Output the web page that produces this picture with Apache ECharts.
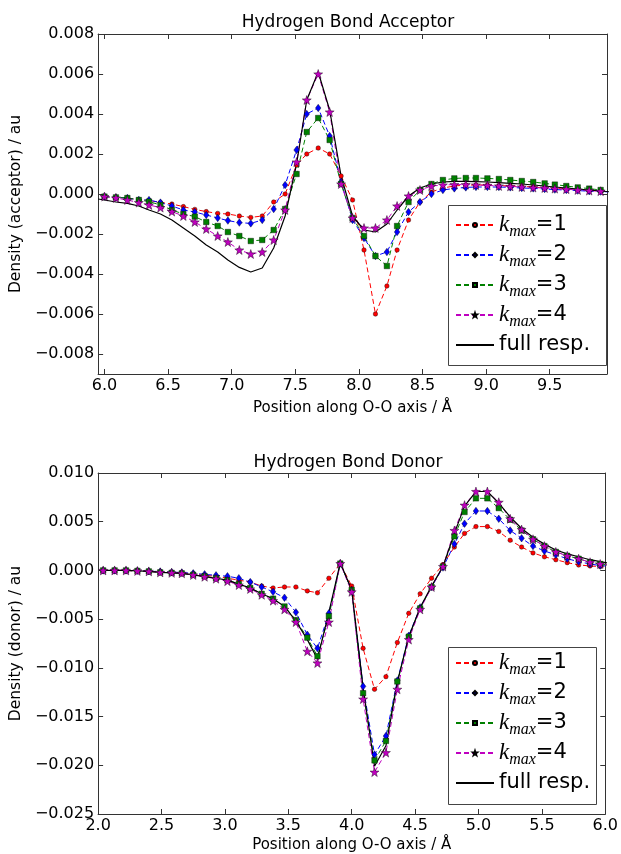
<!DOCTYPE html>
<html><head><meta charset="utf-8">
<script src="https://cdn.jsdelivr.net/npm/echarts@6/dist/echarts.min.js"></script>
<style>html,body{margin:0;padding:0;background:#fff}#c{width:621px;height:854px}</style>
</head><body><div id="c"></div>
<script>
// ---------- Acceptor (top) ----------
const accX = [6.00,6.09,6.18,6.27,6.35,6.44,6.53,6.62,6.71,6.80,6.89,6.97,7.06,7.15,7.24,7.33,7.42,7.51,7.59,7.68,7.77,7.86,7.95,8.04,8.13,8.22,8.30,8.39,8.48,8.57,8.66,8.75,8.84,8.92,9.01,9.10,9.19,9.28,9.37,9.46,9.54,9.63,9.72,9.81,9.90,9.99];
const accK1 = [-0.00013,-0.00017,-0.0002,-0.00027,-0.00033,-0.00042,-0.0005,-0.00063,-0.00077,-0.00088,-0.00097,-0.0010,-0.0011,-0.00117,-0.0011,-0.0004,0.0000,0.00145,0.0020,0.0023,0.0020,0.0009,-0.0003,-0.0028,-0.0060,-0.0046,-0.0028,-0.0013,-0.0004,0.0001,0.0003,0.0004,0.00045,0.00045,0.00045,0.00042,0.0004,0.00038,0.00035,0.0003,0.00028,0.00025,0.0002,0.00018,0.00015,0.0001];
const accK2 = [-0.00013,-0.00017,-0.0002,-0.0003,-0.0003,-0.00043,-0.0006,-0.0008,-0.0009,-0.00105,-0.0012,-0.00133,-0.00143,-0.00147,-0.0013,-0.00075,0.00045,0.0022,0.0040,0.0043,0.0029,0.0006,-0.0013,-0.0022,-0.0031,-0.0029,-0.0019,-0.0009,-0.0004,0.0000,0.0002,0.00028,0.00033,0.00035,0.00035,0.00035,0.00033,0.0003,0.00028,0.00025,0.00022,0.0002,0.00017,0.00014,0.00012,0.0001];
const accK3 = [-0.00013,-0.00017,-0.0002,-0.0003,-0.00038,-0.00055,-0.0008,-0.001,-0.00113,-0.0014,-0.0016,-0.0019,-0.0021,-0.00235,-0.0023,-0.0018,-0.00075,0.0010,0.0031,0.0038,0.0027,0.0005,-0.0012,-0.0021,-0.0031,-0.0036,-0.0016,-0.0004,0.0002,0.0005,0.0007,0.00078,0.0008,0.0008,0.00078,0.00075,0.0007,0.00065,0.0006,0.00053,0.00047,0.0004,0.00033,0.00027,0.0002,0.00015];
const accK4 = [-0.00013,-0.0002,-0.0003,-0.00043,-0.00055,-0.00068,-0.00088,-0.0011,-0.0014,-0.00175,-0.0021,-0.0024,-0.0028,-0.0030,-0.0029,-0.0023,-0.0008,0.0016,0.0047,0.0060,0.0041,0.0005,-0.0012,-0.0017,-0.0017,-0.0013,-0.0006,-0.0001,0.0002,0.0004,0.00045,0.00047,0.00047,0.00045,0.00043,0.0004,0.00038,0.00035,0.00032,0.0003,0.00027,0.00024,0.0002,0.00017,0.00014,0.0001];
const accFullX = [5.95,6.00,6.09,6.18,6.27,6.35,6.44,6.53,6.62,6.71,6.80,6.89,6.97,7.06,7.15,7.24,7.33,7.42,7.51,7.59,7.68,7.77,7.86,7.95,8.04,8.13,8.22,8.30,8.39,8.48,8.57,8.66,8.75,8.84,8.92,9.01,9.10,9.19,9.28,9.37,9.46,9.54,9.63,9.72,9.81,9.90,9.99];
const accFull = [-0.00025,-0.0003,-0.0004,-0.00047,-0.0006,-0.0008,-0.001,-0.0013,-0.0017,-0.0021,-0.00255,-0.0029,-0.0033,-0.00367,-0.0039,-0.0037,-0.0027,-0.0011,0.0015,0.0047,0.0061,0.0042,0.0009,-0.0011,-0.0018,-0.0019,-0.0015,-0.0008,-0.0001,0.0003,0.0005,0.0006,0.00063,0.00063,0.00062,0.0006,0.00057,0.00053,0.0005,0.00045,0.0004,0.00035,0.0003,0.00025,0.0002,0.00015,0.0001];
const accYTicks = [-0.008,-0.006,-0.004,-0.002,0,0.002,0.004,0.006,0.008];
const accXTicks = [6.0,6.5,7.0,7.5,8.0,8.5,9.0,9.5];

// ---------- Donor (bottom) ----------
const donX = [2.04,2.13,2.22,2.31,2.40,2.49,2.58,2.66,2.75,2.84,2.93,3.02,3.11,3.20,3.29,3.38,3.47,3.56,3.65,3.73,3.82,3.91,4.00,4.09,4.18,4.27,4.36,4.45,4.54,4.63,4.72,4.81,4.89,4.98,5.07,5.16,5.25,5.34,5.43,5.52,5.61,5.70,5.79,5.88,5.96,6.05];
const donK1 = [0,0,0,-0.00005,-0.0001,-0.00015,-0.0002,-0.00025,-0.00035,-0.0005,-0.0006,-0.0008,-0.0010,-0.0012,-0.0016,-0.0018,-0.0017,-0.0017,-0.0021,-0.0023,-0.0008,0.0007,-0.0016,-0.0080,-0.0122,-0.0109,-0.0074,-0.0044,-0.0024,-0.0008,0.0006,0.0024,0.0038,0.0045,0.0045,0.0040,0.0031,0.0024,0.0018,0.0014,0.0011,0.0008,0.00056,0.00046,0.0004,0.0003];
const donK2 = [0,0,0,-0.00003,-0.00008,-0.00012,-0.00018,-0.00022,-0.0003,-0.0004,-0.0005,-0.0006,-0.0008,-0.0012,-0.0017,-0.0022,-0.0028,-0.0043,-0.0066,-0.0080,-0.0044,0.0007,-0.0020,-0.0119,-0.0189,-0.0170,-0.0113,-0.0067,-0.0038,-0.0017,0.0003,0.0027,0.0048,0.0061,0.0061,0.0053,0.0041,0.0033,0.0025,0.0020,0.0016,0.0012,0.0009,0.00066,0.0005,0.0004];
const donK3 = [0,0,0,-0.00005,-0.0001,-0.0002,-0.00025,-0.0003,-0.00045,-0.0006,-0.0008,-0.001,-0.0014,-0.0018,-0.0024,-0.0029,-0.0037,-0.0051,-0.0069,-0.0088,-0.0047,0.0007,-0.0020,-0.0126,-0.0195,-0.0175,-0.0114,-0.0068,-0.0039,-0.0017,0.0004,0.0035,0.0060,0.0074,0.0074,0.0064,0.0052,0.0041,0.0032,0.0025,0.0019,0.0015,0.0012,0.00084,0.00066,0.0005];
const donK4 = [0,0,0,-0.00005,-0.0001,-0.0002,-0.00025,-0.0003,-0.00047,-0.00065,-0.00085,-0.0011,-0.0015,-0.0019,-0.0025,-0.0031,-0.0040,-0.0053,-0.0083,-0.0095,-0.0053,0.0007,-0.0022,-0.0132,-0.0207,-0.0187,-0.0122,-0.0071,-0.0040,-0.0017,0.0004,0.0041,0.0067,0.0081,0.0081,0.0070,0.0053,0.0042,0.0032,0.0025,0.0019,0.0015,0.0012,0.00084,0.00066,0.0005];
const donFull = [0,0,0,-0.00005,-0.0001,-0.0002,-0.00025,-0.0003,-0.00046,-0.00063,-0.0008,-0.001,-0.0014,-0.0018,-0.0024,-0.0029,-0.0037,-0.0052,-0.0071,-0.0091,-0.0043,0.0008,-0.0020,-0.0120,-0.0201,-0.0180,-0.0115,-0.0068,-0.0038,-0.0016,0.0004,0.0038,0.0066,0.0081,0.0081,0.0069,0.0055,0.0043,0.0034,0.0027,0.0021,0.0017,0.0014,0.0011,0.0009,0.0007];
const donYTicks = [-0.025,-0.020,-0.015,-0.010,-0.005,0,0.005,0.010];
const donXTicks = [2.0,2.5,3.0,3.5,4.0,4.5,5.0,5.5,6.0];

const seriesNames = ['k1','k2','k3','k4','full'];
const legendNums = ['1','2','3','4'];

const FONT = 'DejaVu Sans';
const AX = '#333';
const STAR = 'path://M0,-10 L2.35,-3.24 L9.51,-3.09 L3.8,1.24 L5.88,8.09 L0,4 L-5.88,8.09 L-3.8,1.24 L-9.51,-3.09 L-2.35,-3.24 Z';

const fmtY = v => (v < -1e-12 ? '\u2212' : '') + Math.abs(v).toFixed(3);
const fmtX = v => v.toFixed(1);

function xAxis(gi, min, max, ticks, pos, name, gap) {
  const bottom = pos === 'bottom';
  return {
    type: 'value', gridIndex: gi, position: pos, min, max,
    axisLine: {show: true, onZero: false, lineStyle: {color: AX, width: 1}},
    axisTick: {show: true, inside: true, length: 5, customValues: ticks, lineStyle: {color: AX}},
    axisLabel: {show: bottom, customValues: ticks, formatter: fmtX, color: '#000', fontSize: 16, fontFamily: FONT, margin: 4},
    splitLine: {show: false},
    name: bottom ? name : '', nameLocation: 'middle', nameGap: gap,
    nameTextStyle: {color: '#000', fontSize: 15, fontFamily: FONT}
  };
}
function yAxis(gi, min, max, ticks, pos, name) {
  const left = pos === 'left';
  return {
    type: 'value', gridIndex: gi, position: pos, min, max,
    axisLine: {show: true, onZero: false, lineStyle: {color: AX, width: 1}},
    axisTick: {show: true, inside: true, length: 5, customValues: ticks, lineStyle: {color: AX}},
    axisLabel: {show: left, customValues: ticks, formatter: fmtY, color: '#000', fontSize: 16, fontFamily: FONT, margin: 4},
    splitLine: {show: false},
    name: left ? name : '', nameLocation: 'middle', nameGap: 61,
    nameTextStyle: {color: '#000', fontSize: 15.5, fontFamily: FONT}
  };
}

const styles = [
  {color: '#ff0000', symbol: 'circle', size: 4.5},
  {color: '#0000ff', symbol: 'diamond', size: [5.5, 7.5]},
  {color: '#008000', symbol: 'rect', size: 5.5},
  {color: '#bf00bf', symbol: STAR, size: 9}
];

function dashed(name, xs, ys, gi, st) {
  return {
    type: 'line', name, xAxisIndex: gi * 2, yAxisIndex: gi * 2,
    data: xs.map((x, i) => [x, ys[i]]),
    symbol: st.symbol, symbolSize: st.size, showSymbol: true, clip: true,
    lineStyle: {color: st.color, width: 1, type: [5, 3]},
    itemStyle: {color: st.color, borderColor: '#000', borderWidth: 0.4},
    emphasis: {disabled: true}, animation: false
  };
}
function solid(name, xs, ys, gi) {
  return {
    type: 'line', name, xAxisIndex: gi * 2, yAxisIndex: gi * 2,
    data: xs.map((x, i) => [x, ys[i]]),
    symbol: 'none', clip: true,
    lineStyle: {color: '#000', width: 1.2},
    itemStyle: {color: '#000'},
    emphasis: {disabled: true}, animation: false
  };
}

const legendRich = {
  k: {fontFamily: 'Liberation Serif', fontStyle: 'italic', fontSize: 23, lineHeight: 30, color: '#000'},
  s: {fontFamily: 'Liberation Serif', fontStyle: 'italic', fontSize: 16, lineHeight: 14, verticalAlign: 'bottom', color: '#000'},
  t: {fontFamily: FONT, fontSize: 21, lineHeight: 30, color: '#000'}
};
function legend(top) {
  return {
    data: seriesNames.map(n => n === 'full'
      ? {name: n, itemStyle: {opacity: 0}}
      : {name: n}),
    orient: 'vertical', left: 455, top, itemGap: 0,
    itemWidth: 38, itemHeight: 5, padding: 0, z: 10,
    selectedMode: false,
    formatter: n => n === 'full' ? '{t|full resp.}' : '{k|k}{s|max}{t|=' + legendNums[seriesNames.indexOf(n)] + '}',
    textStyle: {rich: legendRich, fontSize: 21, lineHeight: 30}
  };
}

const chart = echarts.init(document.getElementById('c'), null, {renderer: 'canvas'});
chart.setOption({
  animation: false,
  backgroundColor: '#fff',
  title: [
    {text: 'Hydrogen Bond Acceptor', left: 348, textAlign: 'center', top: 14, padding: 0,
     textStyle: {fontFamily: FONT, fontSize: 17, fontWeight: 'normal', color: '#000'}},
    {text: 'Hydrogen Bond Donor', left: 348, textAlign: 'center', top: 454, padding: 0,
     textStyle: {fontFamily: FONT, fontSize: 17, fontWeight: 'normal', color: '#000'}}
  ],
  grid: [
    {left: 95, top: 34, width: 512, height: 340},
    {left: 95, top: 473, width: 512, height: 342}
  ],
  xAxis: [
    xAxis(0, 5.95, 9.95, accXTicks, 'bottom', 'Position along O-O axis / \u00C5', 27),
    xAxis(0, 5.95, 9.95, accXTicks, 'top', '', 0),
    xAxis(1, 2.0, 6.0, donXTicks, 'bottom', 'Position along O-O axis / \u00C5', 24),
    xAxis(1, 2.0, 6.0, donXTicks, 'top', '', 0)
  ],
  yAxis: [
    yAxis(0, -0.009, 0.008, accYTicks, 'left', 'Density (acceptor) / au'),
    yAxis(0, -0.009, 0.008, accYTicks, 'right', ''),
    yAxis(1, -0.025, 0.010, donYTicks, 'left', 'Density (donor) / au'),
    yAxis(1, -0.025, 0.010, donYTicks, 'right', '')
  ],
  legend: [legend(210), legend(648)],
  graphic: [
    {type: 'rect', z: 5, shape: {x: 448.5, y: 205.5, width: 158, height: 160}, style: {fill: '#fff', stroke: '#444', lineWidth: 1}},
    {type: 'rect', z: 5, shape: {x: 448.5, y: 647.5, width: 148, height: 157}, style: {fill: '#fff', stroke: '#444', lineWidth: 1}}
  ],
  series: [
    dashed('k1', accX, accK1, 0, styles[0]),
    dashed('k2', accX, accK2, 0, styles[1]),
    dashed('k3', accX, accK3, 0, styles[2]),
    dashed('k4', accX, accK4, 0, styles[3]),
    solid('full', accFullX, accFull, 0),
    dashed('k1', donX, donK1, 1, styles[0]),
    dashed('k2', donX, donK2, 1, styles[1]),
    dashed('k3', donX, donK3, 1, styles[2]),
    dashed('k4', donX, donK4, 1, styles[3]),
    solid('full', donX, donFull, 1)
  ]
});
</script>
</body></html>
